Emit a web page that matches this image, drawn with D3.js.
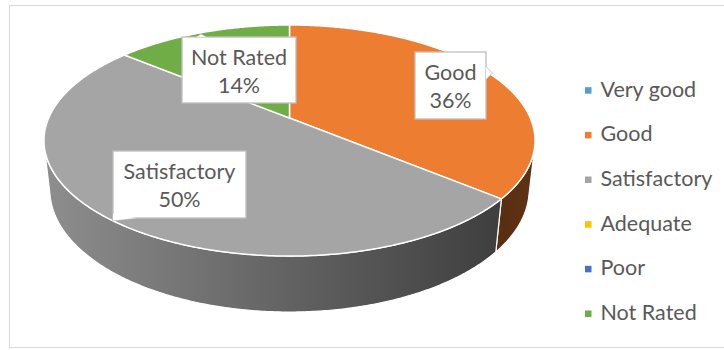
<!DOCTYPE html>
<html>
<head>
<meta charset="utf-8">
<script src="https://cdn.jsdelivr.net/npm/d3@7/dist/d3.min.js"></script>
<style>
  html, body { margin: 0; padding: 0; background: #fff; }
  svg { display: block; }
  text { font-family: Lato, "Open Sans", sans-serif; fill: #595959; }
</style>
</head>
<body>
<svg id="chart" width="724" height="350"></svg>
<script>
// Rating shares
const categories = ["Very good", "Good", "Satisfactory", "Adequate", "Poor", "Not Rated"];
const shares     = [0, 36, 50, 0, 0, 14];
const colors     = ["#5b9bd5", "#ed7d31", "#a5a5a5", "#ffc000", "#4472c4", "#70ad47"];

// Callout boxes for the data labels (x, y, w, h) and the little pointer on each
const callouts = {
  "Good":         { box: [415, 52, 71, 67],  tail: [[486, 67], [492, 73], [486, 79]] },
  "Satisfactory": { box: [113, 151, 133, 67], tail: [[136, 218], [113, 220.5], [113, 214]] },
  "Not Rated":    { box: [182, 37, 114, 66], tail: [[197, 37], [201, 34.5], [206, 37]] }
};

const svg = d3.select("#chart");
const W = 724, H = 350;
const fontSize = 21.5;

// Chart frame
svg.append("rect")
  .attr("x", 9.5).attr("y", 5.5).attr("width", 720).attr("height", 342)
  .attr("fill", "#fff").attr("stroke", "#d9d9d9").attr("stroke-width", 1);

// --- 3D pie projection -------------------------------------------------
const view = { cx: 289.5, cy: 118, scale: 240.8, tilt: Math.asin(0.4615), dist: 4.55, depth: 0.2324 };
const sinT = Math.sin(view.tilt), cosT = Math.cos(view.tilt);

// angle phi measured clockwise from the far (12 o'clock) side, r radius, h height (0 = top face)
function project(phi, r, h) {
  const x = r * Math.sin(phi), y = r * Math.cos(phi);
  const up = y * sinT + h * cosT;
  const z = view.dist + y * cosT - h * sinT;
  const f = view.scale * view.dist / z;
  return [view.cx + x * f, view.cy - up * f];
}

function arcPoints(a0, a1, h) {
  const n = Math.max(2, Math.ceil(Math.abs(a1 - a0) / (Math.PI / 360)));
  const pts = [];
  for (let i = 0; i <= n; i++) pts.push(project(a0 + (a1 - a0) * i / n, 1, h));
  return pts;
}

const data = categories.map((c, i) => ({ category: c, value: shares[i], color: colors[i] }));
const total = d3.sum(shares);
const arcs = d3.pie().sort(null).value(d => d.value).startAngle(0).endAngle(2 * Math.PI)(data)
  .filter(a => a.data.value > 0);

// Part of the outer wall facing the viewer
const visMin = Math.acos(-1 / (view.dist * cosT));
const visMax = 2 * Math.PI - visMin;

const xLeft = project(visMax, 1, 0)[0];
const xRight = project(visMin, 1, 0)[0];

// Wall shading: lighter on the left, darkest near the right, with a slight lift at the far right
const defs = svg.append("defs");
const shadeStops = [[0, 0.42], [0.5, 1.45], [0.935, 2.75], [1, 2.55]];
arcs.forEach((a, i) => {
  const g = defs.append("linearGradient")
    .attr("id", "wall" + i)
    .attr("gradientUnits", "userSpaceOnUse")
    .attr("x1", xLeft).attr("x2", xRight).attr("y1", 0).attr("y2", 0);
  shadeStops.forEach(([o, k]) => {
    g.append("stop").attr("offset", o).attr("stop-color", d3.color(a.data.color).darker(k).formatHex());
  });
});

const line = d3.line();
const pie = svg.append("g");

// Outer walls
arcs.forEach((a, i) => {
  const a0 = Math.max(a.startAngle, visMin), a1 = Math.min(a.endAngle, visMax);
  if (a1 <= a0) return;
  const pts = arcPoints(a0, a1, 0).concat(arcPoints(a1, a0, -view.depth));
  pie.append("path")
    .attr("d", line(pts) + "Z")
    .attr("fill", `url(#wall${i})`)
    .attr("stroke", "#fff").attr("stroke-width", 1.2).attr("stroke-linejoin", "round");
});

// Top faces
arcs.forEach(a => {
  const pts = [project(0, 0, 0)].concat(arcPoints(a.startAngle, a.endAngle, 0));
  pie.append("path")
    .attr("d", line(pts) + "Z")
    .attr("fill", a.data.color)
    .attr("stroke", "#fff").attr("stroke-width", 1.5).attr("stroke-linejoin", "round");
});

// Data callouts
const labels = svg.append("g");
arcs.forEach(a => {
  const c = callouts[a.data.category];
  if (!c) return;
  const [x, y, w, h] = c.box;
  const g = labels.append("g");
  g.append("path")
    .attr("d", line(c.tail) + "Z")
    .attr("fill", "#fff").attr("stroke", "#bfbfbf").attr("stroke-width", 1.3);
  g.append("rect")
    .attr("x", x).attr("y", y).attr("width", w).attr("height", h)
    .attr("fill", "#fff").attr("stroke", "#bfbfbf").attr("stroke-width", 1.3);
  // hide the seam between box and pointer
  g.append("path")
    .attr("d", line(c.tail) + "Z")
    .attr("fill", "#fff").attr("stroke", "none");
  const pct = Math.round(a.data.value / total * 100) + "%";
  g.append("text").attr("x", x + w / 2).attr("y", y + 27.5)
    .attr("text-anchor", "middle").attr("font-size", fontSize).text(a.data.category);
  g.append("text").attr("x", x + w / 2).attr("y", y + 56)
    .attr("text-anchor", "middle").attr("font-size", fontSize).text(pct);
});

// Legend
const legendY = d3.scalePoint().domain(categories).range([96.7, 320]);
const legend = svg.append("g");
categories.forEach((c, i) => {
  const by = legendY(c);
  legend.append("rect")
    .attr("x", 585).attr("y", by - 9.5).attr("width", 6.5).attr("height", 6.5)
    .attr("fill", colors[i]);
  legend.append("text")
    .attr("x", 600.5).attr("y", by)
    .attr("font-size", fontSize).text(c);
});
</script>
</body>
</html>
